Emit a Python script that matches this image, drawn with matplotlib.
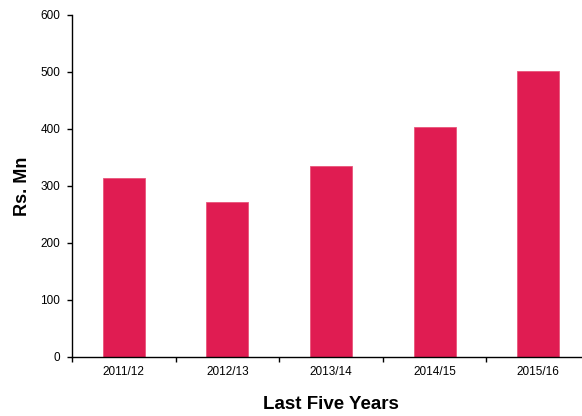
import matplotlib
matplotlib.use("Agg")
import matplotlib.pyplot as plt

# Revenue figures, Rs. Mn
years = ['2011/12', '2012/13', '2013/14', '2014/15', '2015/16']
values = [314, 271, 335, 403, 502]

plt.rcParams['font.family'] = ['Liberation Sans', 'DejaVu Sans']

fig = plt.figure(figsize=(5.82, 4.16), dpi=100)
# axis runs slightly past the right edge of the figure
ax = fig.add_axes([72 / 582, 0.1425, 518 / 582, 0.8215])

pos = list(range(len(years)))
ax.bar(pos, values, width=0.405, color='#E01C52', edgecolor='#E8557A',
       linewidth=0.6)

ax.set_xlim(-0.5, 4.5)
ax.set_ylim(0, 600)
ax.set_yticks(range(0, 601, 100))

# category ticks sit between the bars, labels under the bars
ax.set_xticks([p + 0.5 for p in pos[:-1]] + [-0.5])
ax.set_xticklabels([])
ax.set_xticks(pos, minor=True)
ax.set_xticklabels(years, minor=True)
ax.tick_params(axis='x', which='minor', length=0, pad=7, labelsize=8.5)
ax.tick_params(axis='x', which='major', length=3.5, width=1, direction='out')
ax.tick_params(axis='y', length=3.5, width=1, pad=5, labelsize=8.5)

for side in ['top', 'right']:
    ax.spines[side].set_visible(False)
for side in ['left', 'bottom']:
    ax.spines[side].set_linewidth(1)

ax.set_ylabel('Rs. Mn', fontsize=13, fontweight='bold', labelpad=7)
ax.set_xlabel('Last Five Years', fontsize=13.5, fontweight='bold', labelpad=13)

fig.savefig('out.png', dpi=100)
